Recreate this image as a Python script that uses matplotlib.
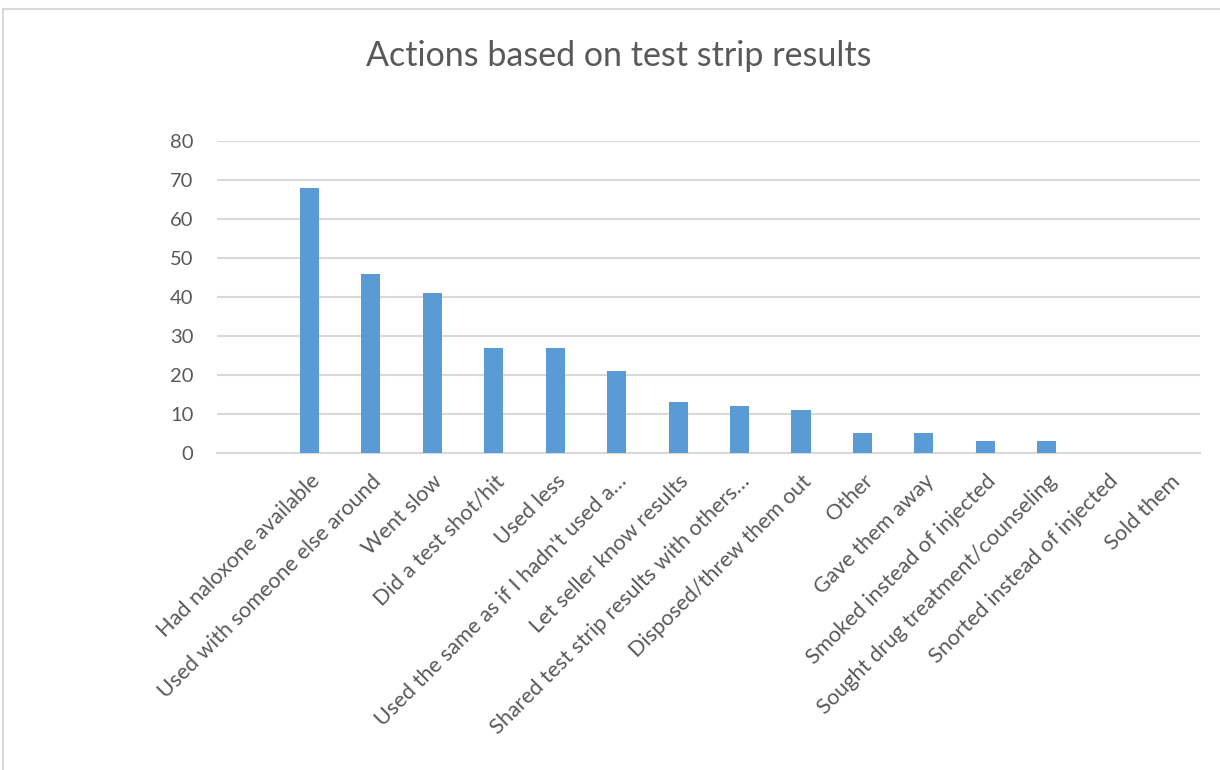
import numpy as np
import matplotlib.pyplot as plt
from matplotlib.lines import Line2D

# Survey responses: what people did after reading the test strip
actions = [
    "Had naloxone available",
    "Used with someone else around",
    "Went slow",
    "Did a test shot/hit",
    "Used less",
    "Used the same as if I hadn't used a…",
    "Let seller know results",
    "Shared test strip results with others…",
    "Disposed/threw them out",
    "Other",
    "Gave them away",
    "Smoked instead of injected",
    "Sought drug treatment/counseling",
    "Snorted instead of injected",
    "Sold them",
]
counts = [68, 46, 41, 27, 27, 21, 13, 12, 11, 5, 5, 3, 3, 0, 0]
yticks = [0, 10, 20, 30, 40, 50, 60, 70, 80]

bar_color = "#5B9BD5"
grid_color = "#D9D9D9"
text_color = "#595959"

plt.rcParams["font.family"] = ["Lato", "DejaVu Sans"]

fig = plt.figure(figsize=(12.2, 7.7), dpi=100)
ax = fig.add_axes([0.178, 0.4117, 0.806, 0.4052])

x = np.arange(len(actions))
ax.bar(x, counts, width=0.31, color=bar_color, zorder=3)

# leave one empty slot on the left, as in the source workbook
ax.set_xlim(-1.5, len(actions) - 0.5)
ax.set_ylim(0, 80)
ax.set_yticks(yticks)
ax.set_yticklabels([str(v) for v in yticks], fontsize=14.5, color=text_color)
ax.yaxis.grid(True, color=grid_color, linewidth=1.5, zorder=0)
ax.tick_params(axis="both", length=0)
ax.tick_params(axis="y", pad=17)

ax.set_xticks(x)
ax.set_xticklabels(actions, rotation=45, ha="right", va="top",
                   rotation_mode="anchor", fontsize=15.7, color=text_color)
ax.tick_params(axis="x", pad=13)

for s in ["top", "right", "left"]:
    ax.spines[s].set_visible(False)
ax.spines["bottom"].set_color(grid_color)
ax.spines["bottom"].set_linewidth(1.5)

fig.text(0.507, 0.927, "Actions based on test strip results",
         ha="center", va="center", fontsize=24.5, color=text_color)

# chart-area frame (left and top edges visible)
fig.add_artist(Line2D([3 / 1220, 3 / 1220], [0, 1 - 9 / 770],
                      transform=fig.transFigure, color=grid_color, lw=1.5))
fig.add_artist(Line2D([3 / 1220, 1], [1 - 9 / 770, 1 - 9 / 770],
                      transform=fig.transFigure, color=grid_color, lw=1.5))

fig.savefig("out.png", dpi=100, facecolor="white")
